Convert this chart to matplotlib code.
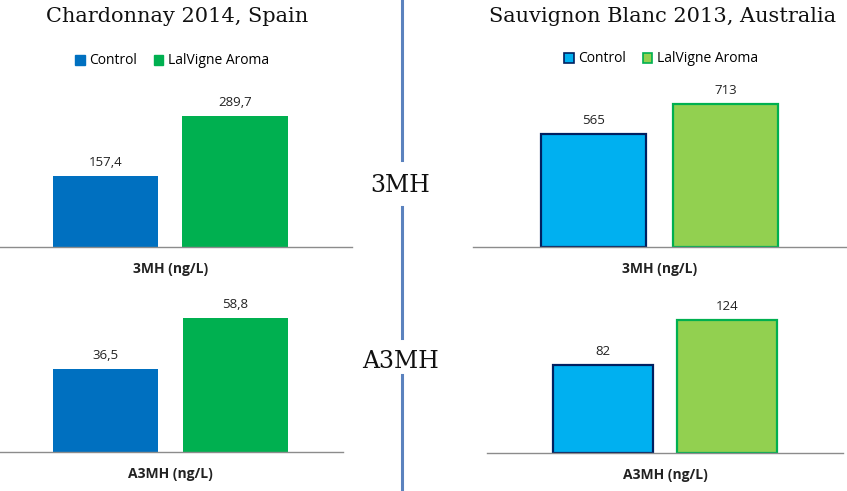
import matplotlib.pyplot as plt
from matplotlib.patches import Patch
from matplotlib.lines import Line2D

W, H = 847, 491

series = ['Control', 'LalVigne Aroma']
spain_3mh = [157.4, 289.7]
spain_a3mh = [36.5, 58.8]
aus_3mh = [565, 713]
aus_a3mh = [82, 124]
spain_labels = ['157,4', '289,7']
spain_labels2 = ['36,5', '58,8']

left_fill = ['#0070C0', '#00B050']
right_fill = ['#00B0F0', '#92D050']
right_edge = ['#002060', '#00B050']

fig = plt.figure(figsize=(W / 100, H / 100), dpi=100)


def px_axes(x0, x1, ybot, ytop):
    return fig.add_axes([x0 / W, 1 - ybot / H, (x1 - x0) / W, (ybot - ytop) / H])


def panel(ax, vals, labels, cat, fills, edges, lw, width, xlim, ymax):
    bars = ax.bar([0, 1], vals, width=width, color=fills, edgecolor=edges, linewidth=lw)
    ax.bar_label(bars, labels=labels, padding=5, fontsize=9.5, family='Open Sans', color='#222222')
    ax.set_xlim(*xlim)
    ax.set_ylim(0, ymax)
    for s in ['top', 'left', 'right']:
        ax.spines[s].set_visible(False)
    ax.spines['bottom'].set_color('#8c8c8c')
    ax.spines['bottom'].set_linewidth(1)
    ax.set_yticks([])
    ax.set_xticks([0.5])
    ax.set_xticklabels([cat], fontsize=10, fontweight='bold', family='Open Sans', color='#222222')
    ax.tick_params(axis='x', length=0, pad=11)
    ax.patch.set_visible(False)


ax1 = px_axes(0, 352, 247, 85)
panel(ax1, spain_3mh, spain_labels, '3MH (ng/L)', left_fill, left_fill, 0, 0.81, (-0.81, 1.90), 359)
ax2 = px_axes(0, 343, 452, 295)
panel(ax2, spain_a3mh, spain_labels2, 'A3MH (ng/L)', left_fill, left_fill, 0, 0.81, (-0.81, 1.83), 69)
ax3 = px_axes(473, 847, 247, 85)
panel(ax3, aus_3mh, ['565', '713'], '3MH (ng/L)', right_fill, right_edge, 1.6, 0.795, (-0.913, 1.92), 810)
ax4 = px_axes(487, 843, 453, 295)
panel(ax4, aus_a3mh, ['82', '124'], 'A3MH (ng/L)', right_fill, right_edge, 1.6, 0.80, (-0.93, 1.93), 147)

# titles
fig.text(177 / W, 1 - 17 / H, 'Chardonnay 2014, Spain', ha='center', va='center',
         fontsize=15, family='DejaVu Serif', color='#111111')
fig.text(663 / W, 1 - 17 / H, 'Sauvignon Blanc 2013, Australia', ha='center', va='center',
         fontsize=15, family='DejaVu Serif', color='#111111')

# legends
h_left = [Patch(facecolor=c, edgecolor=c) for c in left_fill]
h_right = [Patch(facecolor=f, edgecolor=e, linewidth=1.2) for f, e in zip(right_fill, right_edge)]
fig.legend(h_left, series, loc='center', bbox_to_anchor=(172 / W, 1 - 61 / H), ncol=2, frameon=False,
           handlelength=0.7, handleheight=0.7, handletextpad=0.3, columnspacing=1.2,
           prop={'family': 'Open Sans', 'size': 10})
fig.legend(h_right, series, loc='center', bbox_to_anchor=(661 / W, 1 - 59 / H), ncol=2, frameon=False,
           handlelength=0.7, handleheight=0.7, handletextpad=0.3, columnspacing=1.2,
           prop={'family': 'Open Sans', 'size': 10})

# divider and row labels
for y0, y1 in [(0, 160), (207, 338), (375, 491)]:
    fig.add_artist(Line2D([402 / W, 402 / W], [1 - y0 / H, 1 - y1 / H], color='#5B82BE', linewidth=2.2))
fig.text(400 / W, 1 - 185 / H, '3MH', ha='center', va='center', fontsize=17, family='DejaVu Serif', color='#111111')
fig.text(400 / W, 1 - 362 / H, 'A3MH', ha='center', va='center', fontsize=17, family='DejaVu Serif', color='#111111')

fig.savefig('out.png', dpi=100)
